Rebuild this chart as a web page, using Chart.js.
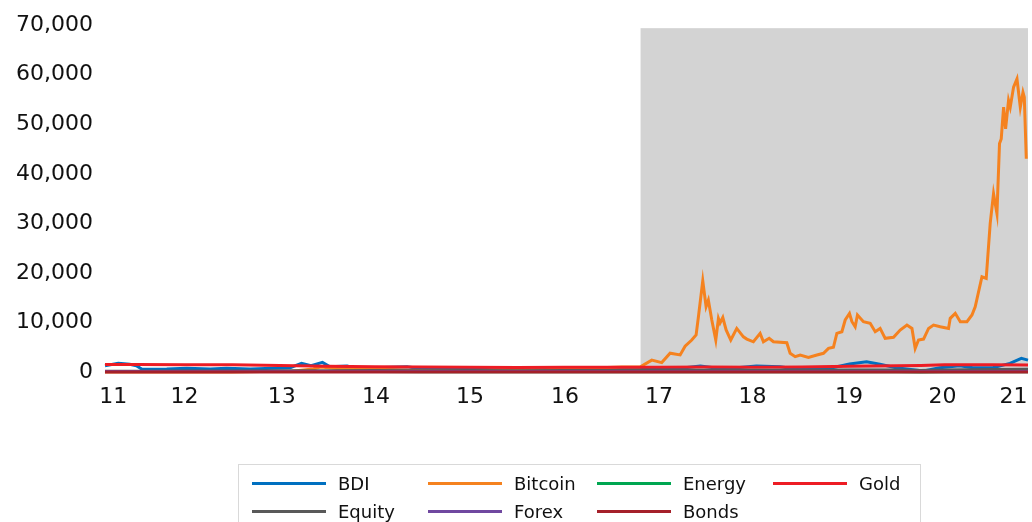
<!DOCTYPE html>
<html>
<head>
<meta charset="utf-8">
<script src="https://cdn.jsdelivr.net/npm/chart.js@4.4.1/dist/chart.umd.min.js"></script>
<style>
  html, body { margin: 0; padding: 0; background: #fff; overflow: hidden; }
  #wrap { position: relative; width: 1032px; height: 522px; }
  #legend {
    position: absolute; left: 238px; top: 464px; width: 683px; height: 80px;
    box-sizing: border-box; border: 1px solid #d9d9d9; padding: 4px 0 0 13px;
    display: grid; grid-template-columns: 176px 169px 176px auto; grid-auto-rows: 28px;
    font-family: "DejaVu Sans", sans-serif; font-size: 18px; color: #111;
  }
  .item { display: flex; align-items: center; }
  .swatch { width: 74px; height: 3px; margin-right: 12px; }
</style>
</head>
<body>
<div id="wrap">
  <canvas id="grafico" width="1032" height="522"></canvas>
  <div id="legend"></div>
</div>
<script>
// x values are decimal years
const tickPositions = [2011.747, 2012.497, 2013.521, 2014.514, 2015.504, 2016.504, 2017.494, 2018.479, 2019.495, 2020.479, 2021.227];
const tickLabels = ['11', '12', '13', '14', '15', '16', '17', '18', '19', '20', '21'];

const shadeStart = 2017.3;
const shadeTop = 69400;

const btcDates = [2011.66, 2012.0, 2012.5, 2013.0, 2013.3, 2013.6, 2013.85, 2013.93, 2014.1, 2014.4, 2014.7, 2015.0, 2015.5, 2015.9, 2016.3, 2016.6, 2016.95, 2017.1,
  2017.294, 2017.418, 2017.523, 2017.611, 2017.717, 2017.769, 2017.839, 2017.885, 2017.909, 2017.955, 2017.990, 2018.014, 2018.050, 2018.092, 2018.120, 2018.137,
  2018.166, 2018.201, 2018.250, 2018.313, 2018.383, 2018.419, 2018.488, 2018.559, 2018.594, 2018.654, 2018.699, 2018.840, 2018.875, 2018.928, 2018.981,
  2019.068, 2019.157, 2019.226, 2019.279, 2019.331, 2019.367, 2019.420, 2019.455, 2019.500, 2019.525, 2019.560, 2019.584, 2019.647, 2019.718, 2019.771,
  2019.823, 2019.876, 2019.964, 2020.034, 2020.105, 2020.158, 2020.192, 2020.227, 2020.280, 2020.333, 2020.385, 2020.456, 2020.543, 2020.561, 2020.614,
  2020.667, 2020.737, 2020.790, 2020.824, 2020.895, 2020.940, 2020.982, 2021.017, 2021.053, 2021.080, 2021.098, 2021.123, 2021.144, 2021.175, 2021.193,
  2021.228, 2021.264, 2021.299, 2021.327, 2021.341, 2021.362];
const btcValues = [5, 6, 7, 13, 120, 100, 600, 1000, 700, 600, 450, 250, 250, 400, 450, 650, 900, 1000,
  1000, 2400, 1900, 3800, 3450, 5200, 6450, 7500, 11100, 18400, 13200, 14500, 10500, 6450, 10800, 9900,
  11000, 8500, 6450, 8800, 7100, 6650, 6100, 7800, 6100, 6800, 6100, 5900, 3770, 3100, 3430,
  2960, 3430, 3770, 4780, 4980, 7800, 8130, 10500, 11800, 10200, 9140, 11500, 10150, 9820, 8130,
  8800, 6800, 7000, 8470, 9480, 8800, 4780, 6450, 6650, 8800, 9480, 9140, 8800, 10830, 11840,
  10150, 10150, 11500, 13170, 19230, 18900, 30000, 36000, 32000, 46100, 47050, 53450, 49100, 54800, 53450,
  57500, 59150, 53450, 56450, 55450, 43050];

const bdiDates = [2011.66, 2011.80, 2011.92, 2011.99, 2012.05, 2012.31, 2012.52, 2012.77, 2012.94, 2013.19, 2013.43, 2013.61, 2013.73, 2013.83, 2013.95,
  2014.03, 2014.21, 2014.31, 2014.42, 2014.6, 2014.84, 2015.0, 2015.5, 2016.0, 2016.5, 2016.8, 2017.0, 2017.3, 2017.65, 2017.93, 2018.17, 2018.52,
  2018.77, 2018.94, 2019.26, 2019.50, 2019.68, 2019.82, 2019.99, 2020.28, 2020.45, 2020.66, 2020.80, 2021.01, 2021.19, 2021.31, 2021.38];
const bdiValues = [1270, 1750, 1550, 1270, 540, 600, 740, 600, 740, 600, 740, 870, 1750, 1270, 1950,
  1070, 1200, 740, 600, 900, 1070, 600, 600, 300, 600, 800, 700, 600, 600, 1200, 600, 1200,
  1070, 600, 600, 1610, 2070, 1550, 870, 200, 870, 1270, 870, 870, 1750, 2750, 2400];

const slowDates = [2011.66, 2012.0, 2012.5, 2013.0, 2013.5, 2014.0, 2014.5, 2015.0, 2015.5, 2016.0, 2016.5, 2017.0, 2017.5, 2018.0, 2018.5, 2019.0, 2019.5, 2020.0, 2020.25, 2020.5, 2021.0, 2021.38];
const goldValues = [1500, 1500, 1450, 1450, 1300, 1150, 1050, 1000, 950, 900, 950, 950, 950, 1000, 950, 1000, 1150, 1250, 1300, 1450, 1450, 1400];
const energyValues = [110, 100, 95, 105, 100, 100, 105, 55, 60, 35, 45, 55, 48, 65, 75, 50, 60, 60, 25, 40, 50, 65];
const equityValues = [150, 160, 190, 200, 240, 260, 280, 270, 280, 250, 280, 300, 330, 360, 370, 350, 400, 420, 320, 420, 500, 550];
const forexValues = [90, 88, 85, 86, 88, 90, 92, 95, 96, 98, 96, 100, 95, 92, 94, 96, 97, 98, 100, 96, 90, 92];
const bondsValues = [2.0, 1.9, 1.6, 1.9, 2.5, 2.9, 2.5, 2.2, 2.3, 2.2, 1.5, 2.4, 2.3, 2.5, 2.9, 2.7, 2.0, 1.8, 0.7, 0.6, 1.1, 1.6];

function pairs(xs, ys) {
  return xs.map((x, i) => ({ x: x, y: ys[i] }));
}

const series = [
  { label: 'BDI', data: pairs(bdiDates, bdiValues), color: '#0070C0' },
  { label: 'Bitcoin', data: pairs(btcDates, btcValues), color: '#F5821F' },
  { label: 'Energy', data: pairs(slowDates, energyValues), color: '#00A651' },
  { label: 'Gold', data: pairs(slowDates, goldValues), color: '#ED1C24' },
  { label: 'Equity', data: pairs(slowDates, equityValues), color: '#595959' },
  { label: 'Forex', data: pairs(slowDates, forexValues), color: '#7048A0' },
  { label: 'Bonds', data: pairs(slowDates, bondsValues), color: '#A5202A' }
];

const shadePlugin = {
  id: 'shade',
  beforeDatasetsDraw(chart) {
    const { ctx, chartArea, scales } = chart;
    const x0 = scales.x.getPixelForValue(shadeStart);
    const yTop = scales.y.getPixelForValue(shadeTop);
    const yBot = scales.y.getPixelForValue(0);
    ctx.save();
    ctx.fillStyle = '#d3d3d3';
    ctx.fillRect(x0, yTop, chartArea.right - x0, yBot - yTop);
    ctx.restore();
  }
};

const config = {
  type: 'line',
  data: {
    datasets: series.map((s, i) => ({
      label: s.label,
      data: s.data,
      borderColor: s.color,
      backgroundColor: s.color,
      borderWidth: 3,
      pointRadius: 0,
      tension: 0,
      clip: false,
      order: series.length - i
    }))
  },
  options: {
    responsive: false,
    animation: false,
    devicePixelRatio: 1,
    layout: { padding: { top: 24, right: 4, left: 0, bottom: 0 } },
    scales: {
      x: {
        type: 'linear',
        min: 2011.66,
        max: 2021.38,
        grid: { display: false, drawTicks: false },
        border: { display: false },
        afterBuildTicks: (scale) => {
          scale.ticks = tickPositions.map(v => ({ value: v }));
        },
        afterFit: (scale) => {
          scale.height = 150;
          scale.paddingLeft = 0;
          scale.paddingRight = 0;
        },
        ticks: {
          autoSkip: false,
          maxRotation: 0,
          padding: 12,
          color: '#111',
          font: { family: 'DejaVu Sans', size: 22 },
          callback: (value, index) => tickLabels[index]
        }
      },
      y: {
        min: 0,
        max: 70000,
        grid: { display: false, drawTicks: false },
        border: { display: false },
        afterFit: (scale) => { scale.width = 105; },
        ticks: {
          stepSize: 10000,
          padding: 12,
          color: '#111',
          font: { family: 'DejaVu Sans', size: 22 },
          callback: (value) => value.toLocaleString('en-US')
        }
      }
    },
    plugins: {
      legend: { display: false },
      tooltip: { enabled: false }
    }
  },
  plugins: [shadePlugin]
};

const grafico = new Chart(document.getElementById('grafico'), config);

const legendBox = document.getElementById('legend');
grafico.data.datasets.forEach(ds => {
  const item = document.createElement('div');
  item.className = 'item';
  const sw = document.createElement('span');
  sw.className = 'swatch';
  sw.style.background = ds.borderColor;
  const txt = document.createElement('span');
  txt.textContent = ds.label;
  item.appendChild(sw);
  item.appendChild(txt);
  legendBox.appendChild(item);
});
</script>
</body>
</html>
